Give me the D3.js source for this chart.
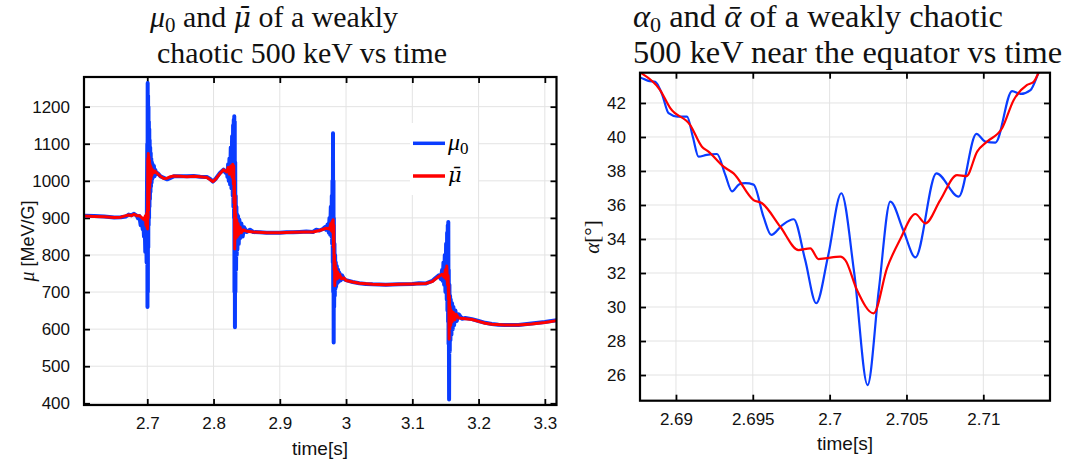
<!DOCTYPE html>
<html><head><meta charset="utf-8">
<script src="https://cdn.jsdelivr.net/npm/d3@7"></script>
<style>
html,body{margin:0;padding:0;background:#fff;}
svg{display:block;}
</style></head>
<body><svg id="c" width="1087" height="463"></svg>
<script>
// ---------- Data: left panel, mu0 (time [s], mu [MeV/G]) ----------
const mu0Points = [
[2.605,906],[2.62,905],[2.635,904],[2.65,901],[2.66,902],[2.668,904],[2.672,909],[2.676,907],[2.68,911],[2.684,906],[2.686,899],[2.688,905],
[2.69,880],[2.692,897],[2.693,870],[2.694,895],[2.695,850],[2.696,890],[2.697,808],[2.698,905],[2.699,780],[2.6995,960],[2.7,1100],
[2.7003,660],[2.7006,1264],[2.7009,700],[2.7012,1230],[2.7015,820],[2.7018,1200],[2.7021,880],[2.7024,1160],[2.7027,900],[2.703,1140],
[2.7033,930],[2.7036,1110],[2.704,950],[2.7044,1090],[2.7048,970],[2.7052,1075],[2.7056,985],[2.706,1060],[2.7065,995],[2.707,1050],
[2.7075,1005],[2.708,1045],[2.709,1010],[2.71,1040],[2.711,1012],[2.712,1030],[2.714,1018],[2.716,1020],[2.72,1012],[2.725,1008],
[2.73,1004],[2.735,1008],[2.74,1012],[2.75,1012],[2.76,1012],[2.77,1013],[2.78,1011],[2.79,1010],[2.795,1005],[2.799,998],[2.803,1005],
[2.81,1022],[2.815,1030],[2.818,1022],[2.82,1028],[2.821,1010],[2.822,1045],[2.823,1000],[2.824,1060],[2.825,990],[2.826,1090],[2.827,980],
[2.828,1120],[2.829,960],[2.8295,1150],[2.83,930],[2.8305,1165],[2.831,900],[2.8313,1174],[2.8316,700],[2.832,1160],[2.8323,605],
[2.8327,1050],[2.833,700],[2.8335,960],[2.834,760],[2.8345,930],[2.835,800],[2.8355,910],[2.836,815],[2.837,905],[2.838,830],[2.839,895],
[2.84,845],[2.842,885],[2.844,850],[2.846,875],[2.85,862],[2.855,868],[2.86,862],[2.87,861],[2.88,860],[2.89,860],[2.9,860],[2.91,861],
[2.92,861],[2.93,862],[2.94,863],[2.95,862],[2.955,868],[2.96,866],[2.965,870],[2.968,875],[2.97,868],[2.972,882],[2.974,860],[2.975,900],
[2.976,855],[2.977,930],[2.978,850],[2.9785,960],[2.979,830],[2.9795,1000],[2.98,780],[2.9803,1128],[2.9806,700],[2.981,1000],[2.9813,564],
[2.9816,900],[2.982,660],[2.9825,830],[2.983,690],[2.9835,800],[2.984,710],[2.9845,780],[2.985,715],[2.986,770],[2.987,725],[2.988,760],
[2.989,728],[2.99,752],[2.992,732],[2.994,745],[2.997,735],[3.0,732],[3.01,727],[3.02,724],[3.03,722],[3.04,721],[3.06,720],[3.08,721],
[3.1,722],[3.11,724],[3.12,723],[3.13,730],[3.135,738],[3.14,745],[3.143,735],[3.145,760],[3.146,730],[3.147,780],[3.148,720],[3.149,800],
[3.15,700],[3.151,830],[3.152,680],[3.1525,860],[3.153,650],[3.1535,880],[3.154,620],[3.1543,889],[3.1547,560],[3.155,760],[3.1555,410],
[3.156,720],[3.1565,540],[3.157,690],[3.1575,570],[3.158,680],[3.159,585],[3.16,670],[3.161,600],[3.162,660],[3.163,610],[3.165,650],
[3.167,622],[3.17,640],[3.175,628],[3.18,630],[3.19,627],[3.2,622],[3.21,617],[3.22,614],[3.23,612],[3.24,611],[3.25,611],[3.26,611],
[3.27,613],[3.28,615],[3.29,617],[3.3,619],[3.31,622],[3.318,624]
];
// ---------- Data: left panel, mu-bar ----------
const muBarPoints = [
[2.605,905],[2.62,904],[2.635,903],[2.65,901],[2.66,902],[2.668,906],[2.672,908],[2.676,906],[2.68,910],[2.684,906],[2.688,906],[2.692,900],
[2.695,895],[2.697,905],[2.698,880],[2.699,912],[2.6995,875],[2.7,920],[2.7004,870],[2.7008,1060],[2.7012,900],[2.7016,1074],[2.702,920],
[2.7024,1065],[2.7028,950],[2.7032,1055],[2.7036,980],[2.704,1045],[2.7045,995],[2.705,1040],[2.7055,1005],[2.706,1035],[2.707,1015],
[2.708,1030],[2.71,1022],[2.712,1026],[2.715,1020],[2.72,1012],[2.725,1006],[2.73,1007],[2.735,1011],[2.74,1013],[2.75,1012],[2.76,1011],
[2.77,1012],[2.78,1011],[2.79,1009],[2.795,1003],[2.799,998],[2.803,1004],[2.81,1020],[2.815,1030],[2.82,1024],[2.822,1036],[2.824,1018],
[2.826,1040],[2.828,1010],[2.829,1045],[2.83,990],[2.8305,1040],[2.831,940],[2.8315,1000],[2.832,816],[2.8325,960],[2.833,850],[2.8335,910],
[2.834,845],[2.835,895],[2.836,850],[2.837,885],[2.838,855],[2.84,875],[2.842,860],[2.845,868],[2.85,864],[2.86,862],[2.88,860],[2.9,860],
[2.92,861],[2.94,862],[2.95,862],[2.96,866],[2.97,872],[2.975,870],[2.977,885],[2.978,865],[2.979,890],[2.98,860],[2.9805,895],[2.981,820],
[2.9815,880],[2.982,760],[2.9825,800],[2.983,717],[2.9835,780],[2.984,735],[2.985,765],[2.986,735],[2.987,755],[2.988,738],[2.99,748],
[2.993,736],[2.997,738],[3.0,731],[3.01,727],[3.02,724],[3.04,721],[3.06,720],[3.08,721],[3.1,722],[3.12,723],[3.13,728],[3.14,742],
[3.145,748],[3.148,740],[3.15,760],[3.151,735],[3.152,770],[3.153,720],[3.154,745],[3.1545,680],[3.155,720],[3.1555,573],[3.156,690],
[3.1565,600],[3.157,660],[3.158,610],[3.159,650],[3.16,620],[3.162,645],[3.164,625],[3.166,640],[3.17,630],[3.18,628],[3.19,626],[3.2,621],
[3.21,616],[3.22,613],[3.24,611],[3.26,611],[3.28,614],[3.3,618],[3.318,623]
];
const muXTicks = [2.7,2.8,2.9,3.0,3.1,3.2,3.3];
const muYTicks = [400,500,600,700,800,900,1000,1100,1200];

// ---------- Data: right panel (alpha, degrees) ----------
const alpha0Points = [
[2.687,43.6],[2.68766,43.5],[2.6882,43.3],[2.68865,43.25],[2.6891,42.5],[2.68952,41.4],[2.6901,41.2],[2.69072,41.2],[2.6911,40.0],
[2.69147,38.84],[2.692,38.95],[2.69267,39.0],[2.6932,37.8],[2.69365,36.8],[2.6941,37.2],[2.69451,37.28],[2.69505,37.2],[2.6957,35.3],
[2.6962,34.24],[2.6969,34.8],[2.69766,35.16],[2.6984,32.8],[2.69913,30.22],[2.6999,33.0],[2.70076,36.69],[2.7016,32.0],[2.70247,25.41],
[2.7032,31.0],[2.70395,36.2],[2.7048,34.5],[2.70558,32.92],[2.70695,37.86],[2.7084,36.49],[2.70955,40.18],[2.71014,39.73],[2.71079,39.67],
[2.71187,42.7],[2.71242,42.53],[2.71307,42.76],[2.71361,43.8],[2.7142,44.8]
];
const alphaBarPoints = [
[2.687,44.1],[2.68766,43.8],[2.68897,42.76],[2.68963,41.69],[2.69093,40.7],[2.69169,39.43],[2.69212,39.14],[2.6931,38.25],[2.69375,37.86],
[2.69505,36.29],[2.6956,36.1],[2.69679,34.72],[2.69798,33.35],[2.69874,33.45],[2.69928,32.82],[2.6997,32.86],[2.7007,32.96],[2.70102,32.76],
[2.70178,31.0],[2.70286,29.63],[2.70374,32.3],[2.7046,34.0],[2.70558,35.47],[2.70623,34.92],[2.7072,36.29],[2.70829,37.76],[2.7089,37.7],
[2.7096,39.14],[2.71025,39.73],[2.71122,40.51],[2.71198,42.18],[2.71285,43.06],[2.71328,43.25],[2.71361,43.8],[2.7142,44.6]
];
const alphaXTicks = [2.69,2.695,2.7,2.705,2.71];
const alphaYTicks = [26,28,30,32,34,36,38,40,42];

// ---------- Styles ----------
const BLUE = "#0a3cff", RED = "#ff0000";
const GRID = "#e3e3e3";
const SANS = "'Liberation Sans', Arial, sans-serif";
const SERIF = "'Liberation Serif', 'Times New Roman', serif";
const MSERIF = "'DejaVu Serif', serif";

const svg = d3.select("#c");

function panel(cfg) {
  const x = d3.scaleLinear().domain(cfg.xDomain).range([cfg.x0, cfg.x1]);
  const y = d3.scaleLinear().domain(cfg.yDomain).range([cfg.y1, cfg.y0]);
  const g = svg.append("g");
  const clipId = cfg.id + "clip";
  svg.append("clipPath").attr("id", clipId).append("rect")
    .attr("x", cfg.x0).attr("y", cfg.y0).attr("width", cfg.x1 - cfg.x0).attr("height", cfg.y1 - cfg.y0);
  g.append("g").selectAll("line").data(cfg.xTicks).join("line")
    .attr("x1", d => x(d)).attr("x2", d => x(d)).attr("y1", cfg.y0).attr("y2", cfg.y1)
    .attr("stroke", GRID).attr("stroke-width", 1);
  g.append("g").selectAll("line").data(cfg.yTicks).join("line")
    .attr("y1", d => y(d)).attr("y2", d => y(d)).attr("x1", cfg.x0).attr("x2", cfg.x1)
    .attr("stroke", GRID).attr("stroke-width", 1);
  const fmtX = cfg.fmtX || (d => String(+d.toFixed(4)));
  const fmtY = d => String(d);
  const ax = g.append("g").attr("transform", `translate(0,${cfg.y1})`)
    .call(d3.axisBottom(x).tickValues(cfg.xTicks).tickSize(-6).tickPadding(12).tickFormat(fmtX));
  const axT = g.append("g").attr("transform", `translate(0,${cfg.y0})`)
    .call(d3.axisTop(x).tickValues(cfg.xTicks).tickSize(-6).tickFormat(""));
  const ay = g.append("g").attr("transform", `translate(${cfg.x0},0)`)
    .call(d3.axisLeft(y).tickValues(cfg.yTicks).tickSize(-6).tickPadding(14).tickFormat(fmtY));
  const ayR = g.append("g").attr("transform", `translate(${cfg.x1},0)`)
    .call(d3.axisRight(y).tickValues(cfg.yTicks).tickSize(-6).tickFormat(""));
  [ax, axT, ay, ayR].forEach(a => {
    a.select(".domain").remove();
    a.selectAll(".tick line").attr("stroke", "#000").attr("stroke-width", 1.8);
    a.selectAll("text").attr("font-family", SANS).attr("font-size", 17).attr("fill", "#111");
  });
  const lines = g.append("g").attr("clip-path", `url(#${clipId})`);
  cfg.series.forEach(s => {
    const line = d3.line().x(d => x(d[0])).y(d => y(d[1])).curve(s.curve || d3.curveLinear);
    lines.append("path").datum(s.data).attr("d", line)
      .attr("fill", "none").attr("stroke", s.color).attr("stroke-width", s.width)
      .attr("stroke-linejoin", "round");
  });
  g.append("rect").attr("x", cfg.x0).attr("y", cfg.y0)
    .attr("width", cfg.x1 - cfg.x0).attr("height", cfg.y1 - cfg.y0)
    .attr("fill", "none").attr("stroke", "#000").attr("stroke-width", 2.2);
  return {x, y, g};
}

panel({
  id: "L", x0: 84, x1: 556.5, y0: 77, y1: 405,
  xDomain: [2.6045, 3.3176], yDomain: [395.4, 1280],
  xTicks: muXTicks, yTicks: muYTicks,
  fmtX: d => String(+d.toFixed(1)),
  series: [
    {data: mu0Points, color: BLUE, width: 4},
    {data: muBarPoints, color: RED, width: 3}
  ]
});

panel({
  id: "R", x0: 640, x1: 1050, y0: 72.7, y1: 400.7,
  xDomain: [2.68766, 2.71434], yDomain: [24.49, 43.78],
  xTicks: alphaXTicks, yTicks: alphaYTicks,
  series: [
    {data: alpha0Points, color: BLUE, width: 2.2, curve: d3.curveMonotoneX},
    {data: alphaBarPoints, color: RED, width: 2.2, curve: d3.curveMonotoneX}
  ]
});

// Legend
const lg = svg.append("g");
lg.append("rect").attr("x", 410).attr("y", 123).attr("width", 68).attr("height", 72).attr("fill", "#fff");
lg.append("line").attr("x1", 413).attr("x2", 445).attr("y1", 143.3).attr("y2", 143.3).attr("stroke", BLUE).attr("stroke-width", 3.5);
lg.append("line").attr("x1", 413).attr("x2", 445).attr("y1", 176).attr("y2", 176).attr("stroke", RED).attr("stroke-width", 3.5);
const lt1 = lg.append("text").attr("x", 448).attr("y", 150).attr("font-family", SERIF).attr("font-size", 24);
lt1.append("tspan").attr("font-style", "italic").text("μ");
lt1.append("tspan").attr("font-size", 17).attr("dy", 4).text("0");
lg.append("text").attr("x", 448).attr("y", 182).attr("font-family", MSERIF).attr("font-size", 21)
  .attr("font-style", "italic").text("μ\u0304");

// Titles
function title(x, y, size, width, build) {
  const t = svg.append("text").attr("x", x).attr("y", y).attr("font-family", SERIF)
    .attr("font-size", size).attr("fill", "#111");
  build(t);
  t.attr("textLength", width).attr("lengthAdjust", "spacingAndGlyphs");
  return t;
}
title(150, 27, 30, 248, t => {
  t.append("tspan").attr("font-style", "italic").text("μ");
  t.append("tspan").attr("font-size", 21).attr("dy", 5).text("0");
  t.append("tspan").attr("dy", -5).text(" and ");
  t.append("tspan").attr("font-family", MSERIF).attr("font-size", 27).attr("font-style", "italic").text("μ\u0304");
  t.append("tspan").text(" of a weakly");
});
title(157, 63, 30, 290, t => t.text("chaotic 500 keV vs time"));
title(633, 27, 31, 370, t => {
  t.append("tspan").attr("font-style", "italic").text("α");
  t.append("tspan").attr("font-size", 21).attr("dy", 5).text("0");
  t.append("tspan").attr("dy", -5).text(" and ");
  t.append("tspan").attr("font-style", "italic").text("α\u0304");
  t.append("tspan").text(" of a weakly chaotic");
});
title(633, 63, 31, 429, t => t.text("500 keV near the equator vs time"));

// Axis labels
svg.append("text").attr("x", 320).attr("y", 455).attr("text-anchor", "middle")
  .attr("font-family", SANS).attr("font-size", 19).attr("fill", "#111").text("time[s]");
svg.append("text").attr("x", 845).attr("y", 450).attr("text-anchor", "middle")
  .attr("font-family", SANS).attr("font-size", 19).attr("fill", "#111").text("time[s]");

const yl = svg.append("text").attr("transform", "translate(34,241) rotate(-90)").attr("text-anchor", "middle")
  .attr("font-family", SANS).attr("font-size", 18).attr("fill", "#111");
yl.append("tspan").attr("font-family", SERIF).attr("font-style", "italic").attr("font-size", 20).text("μ");
yl.append("tspan").text(" [MeV/G]");

const yr = svg.append("text").attr("transform", "translate(599,237) rotate(-90)").attr("text-anchor", "middle")
  .attr("font-family", SERIF).attr("font-size", 21).attr("fill", "#111");
yr.append("tspan").attr("font-style", "italic").text("α");
yr.append("tspan").text("[°]");
</script>
</body></html>
